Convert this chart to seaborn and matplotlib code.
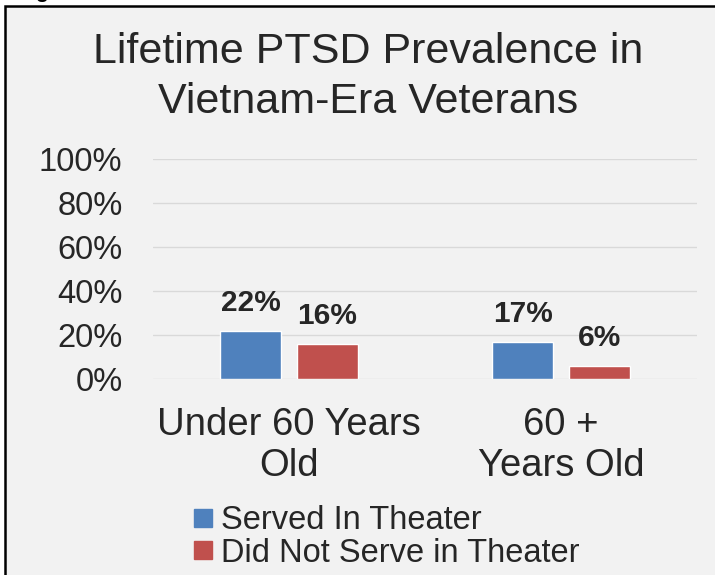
import matplotlib
matplotlib.use("Agg")
import matplotlib.pyplot as plt
import seaborn as sns
import pandas as pd
from matplotlib.patches import Rectangle
from matplotlib.lines import Line2D

categories = ["Under 60 Years\nOld", "60 +\nYears Old"]
series_names = ["Served In Theater", "Did Not Serve in Theater"]
served = [22, 17]
not_served = [16, 6]
tick_values = [0, 20, 40, 60, 80, 100]
tick_labels = ["0%", "20%", "40%", "60%", "80%", "100%"]
title = "Lifetime PTSD Prevalence in\nVietnam-Era Veterans"
colors = ["#4f81bd", "#c0504d"]

df = pd.DataFrame({
    "category": categories * 2,
    "series": [series_names[0]] * 2 + [series_names[1]] * 2,
    "value": served + not_served,
})

sns.set_style("white")
plt.rcParams["font.family"] = ["Liberation Sans", "DejaVu Sans"]

W, H = 715, 575
fig = plt.figure(figsize=(W / 100, H / 100), dpi=100)
fig.patch.set_facecolor("white")

# chart area background with border (left & top visible)
bg = Rectangle((5 / W, -0.1), 1.2, 1 - 6 / H + 0.1, transform=fig.transFigure,
               facecolor="#f2f2f2", edgecolor="black", linewidth=1.8, zorder=-10)
fig.patches.append(bg)
# fragment of caption above the chart (only the descender is visible)
fig.text(35 / W, 1 + 2 / H, "g", fontsize=15, fontweight="bold", ha="left",
         va="baseline", color="black")

ax = fig.add_axes([153 / W, 1 - 379 / H, 544 / W, 220 / H])
ax.set_facecolor("none")

sns.barplot(data=df, x="category", y="value", hue="series", order=categories,
            hue_order=series_names, palette=colors, width=0.566, gap=0.21,
            saturation=1, ax=ax, legend=False, errorbar=None, zorder=3)

ax.set_ylim(0, 100)
ax.set_xlim(-0.5, 1.5)
ax.set_yticks(tick_values)
ax.set_yticklabels(tick_labels, fontsize=23.5)
ax.tick_params(axis="y", length=0, pad=22)
ax.tick_params(axis="x", length=0, pad=20, labelsize=27.5)
for lab in ax.get_xticklabels():
    lab.set_linespacing(1.2)
ax.set_xlabel("")
ax.set_ylabel("")
ax.yaxis.grid(True, color="#d9d9d9", linewidth=1, zorder=0)
ax.set_axisbelow(True)
for s in ax.spines.values():
    s.set_visible(False)

for cont in ax.containers:
    ax.bar_label(cont, labels=[f"{v:.0f}%" for v in cont.datavalues],
                 fontsize=21.5, fontweight="bold", padding=10)

fig.text(368 / W, 1 - 32 / H, title, ha="center", va="top", fontsize=31,
         linespacing=1.32)

handles = [Line2D([], [], marker="s", linestyle="none", markersize=12.5,
                  markerfacecolor=c, markeredgecolor=c) for c in colors]
fig.legend(handles, series_names, loc="upper left",
           bbox_to_anchor=(188 / W, 1 - 505 / H), frameon=False, fontsize=23.5,
           handletextpad=0.1, labelspacing=0.05, handlelength=0.9,
           borderaxespad=0, borderpad=0)

fig.savefig("out.png", dpi=100)
